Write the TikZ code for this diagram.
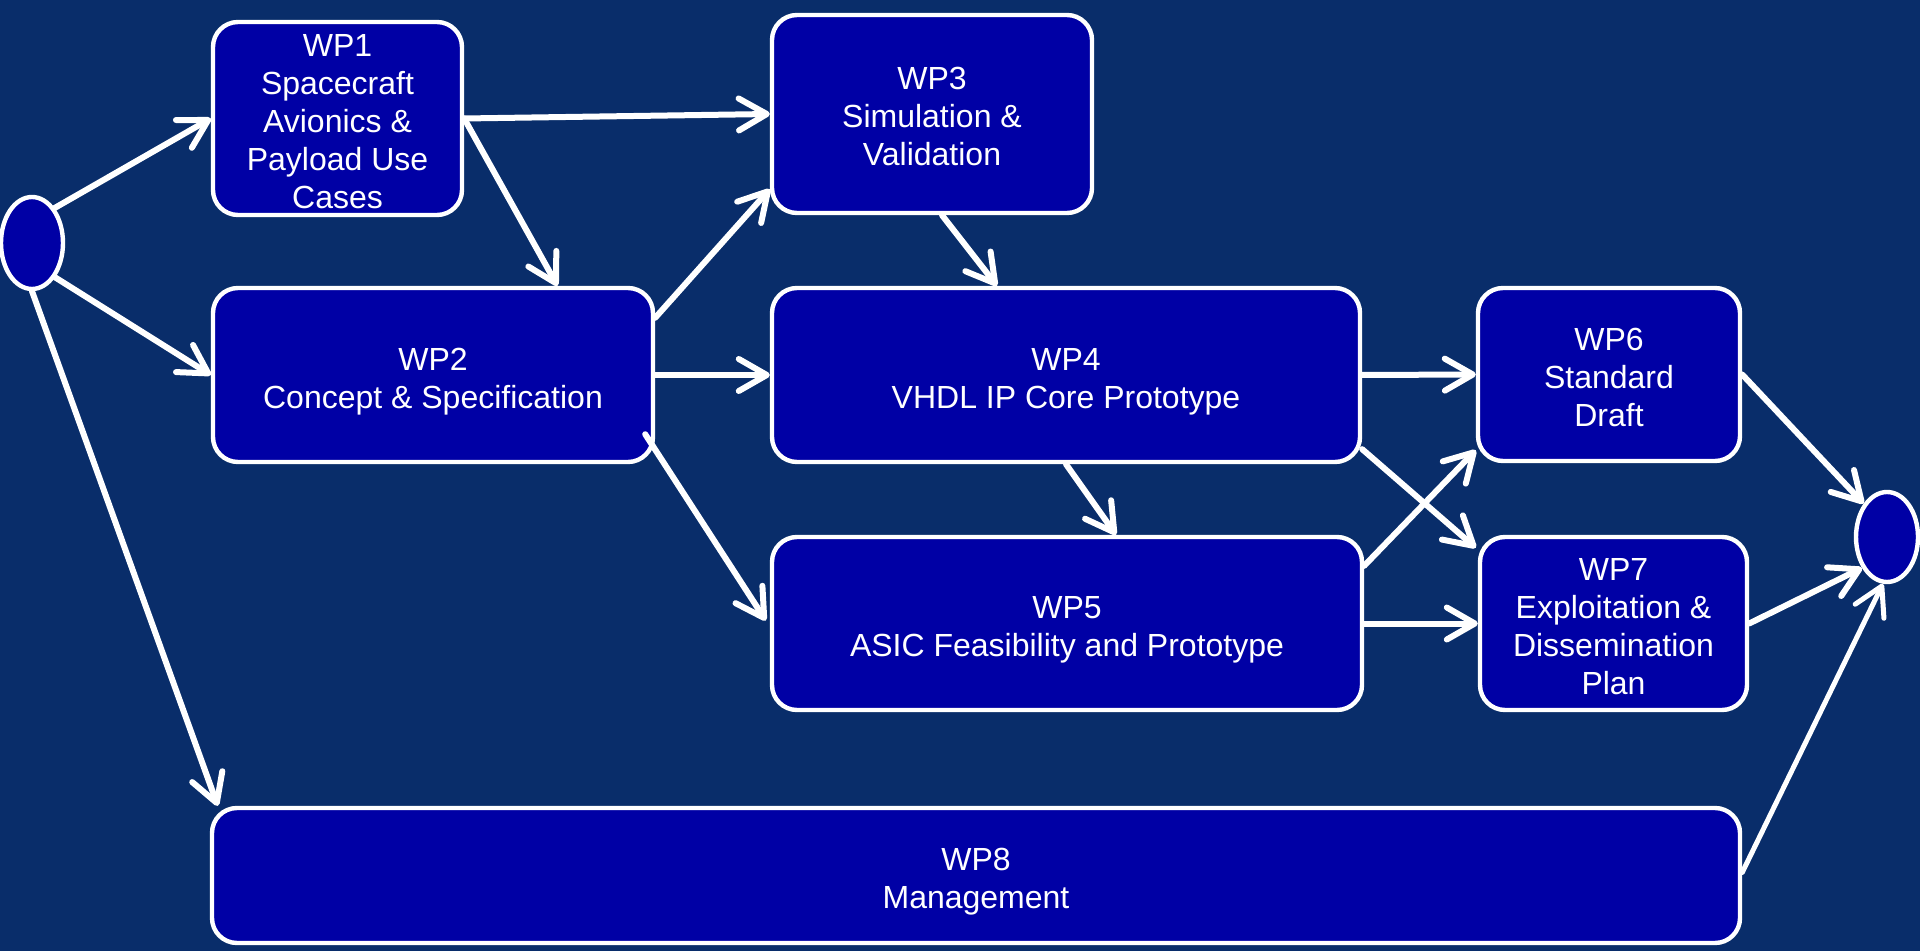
\documentclass[tikz,border=0pt]{standalone}
\usepackage{fontspec}
\setmainfont{Liberation Sans}
\usetikzlibrary{arrows.meta,shapes.geometric,calc}
\definecolor{navybg}{RGB}{9,45,106}
\definecolor{wpfill}{RGB}{0,0,165}
% invisible strut on a first line, lowering a centred text block a little
\newcommand\toppad[1]{\rule{0pt}{#1}}
\begin{document}
\begin{tikzpicture}[x=0.5pt,y=-0.5pt,
  wpbox/.style={draw=white, line width=2.2pt, fill=wpfill, rounded corners=12.5pt,
    inner sep=0pt, text=white, align=center, font=\fontsize{16}{19}\selectfont},
  terminal/.style={ellipse, draw=white, line width=2.2pt, fill=wpfill, inner sep=0pt,
    minimum width=31pt, minimum height=46pt},
  flow/.style={draw=white, line width=3pt, line cap=round,
    -{Straight Barb[length=14pt,width=16pt,round]}}]

% canvas
\useasboundingbox (0,0) rectangle (1920,951);
\fill[navybg] (0,0) rectangle (1920,951);

% start / end events
\node[terminal] (start) at (32,243) {};
\node[terminal, minimum height=45pt] (finish) at (1887,537) {};

% work packages
\node[wpbox, minimum width=124.5pt, minimum height=96.5pt] (wp1) at (337.5,118.5)
  {\toppad{14pt}WP1\\Spacecraft\\Avionics \&\\Payload Use\\Cases};
\node[wpbox, minimum width=220pt, minimum height=87pt] (wp2) at (433,375)
  {\toppad{17.7pt}WP2\\Concept \& Specification};
\node[wpbox, minimum width=160pt, minimum height=99pt] (wp3) at (932,114)
  {\toppad{14pt}WP3\\Simulation \&\\Validation};
\node[wpbox, minimum width=294pt, minimum height=87pt] (wp4) at (1066,375)
  {\toppad{17.7pt}WP4\\VHDL IP Core Prototype};
\node[wpbox, minimum width=295pt, minimum height=86.5pt] (wp5) at (1067,623.5)
  {\toppad{17.7pt}WP5\\ASIC Feasibility and Prototype};
\node[wpbox, minimum width=131pt, minimum height=86.5pt] (wp6) at (1609,374.5)
  {\toppad{14.5pt}WP6\\Standard\\Draft};
\node[wpbox, minimum width=133.5pt, minimum height=86.5pt] (wp7) at (1613.5,623.5)
  {\toppad{14pt}WP7\\Exploitation \&\\Dissemination\\Plan};
\node[wpbox, minimum width=764pt, minimum height=67.5pt] (wp8) at (976,875.5)
  {\toppad{17.7pt}WP8\\Management};

% dependencies
\draw[flow] (start.57) -- (wp1.west);
\draw[flow] (start.-56) -- (wp2.west);
\draw[flow] (start.south) -- ($(wp8.north west)+(8,0)$);
\draw[flow] (wp1.east) -- (wp3.west);
\draw[flow] (wp1.east) -- ($(wp2.north west)!0.78!(wp2.north east)$);
\draw[flow] ($(wp2.north east)+(0,32)$) -- ($(wp3.south west)+(0,-26)$);
\draw[flow] (wp2.east) -- (wp4.west);
\draw[flow] ($(wp2.south east)+(-10,-30)$) -- ($(wp5.west)+(-4,-3)$);
\draw[flow] ($(wp3.south)+(10,0)$) -- ($(wp4.north)+(-69,0)$);
\draw[flow] (wp4.south) -- ($(wp5.north)+(49,0)$);
\draw[flow] (wp4.east) -- (wp6.west);
\draw[flow] ($(wp4.south east)+(0,-15)$) -- ($(wp7.north west)+(-2,13)$);
\draw[flow] ($(wp5.north east)+(0,31)$) -- ($(wp6.south west)+(0,-13)$);
\draw[flow] (wp5.east) -- (wp7.west);
\draw[flow] (wp6.east) -- (finish.125);
\draw[flow] (wp7.east) -- (finish.231);
\draw[flow, line width=2.5pt] ($(wp8.east)+(0,-3)$) -- (finish.265);
\end{tikzpicture}
\end{document}
